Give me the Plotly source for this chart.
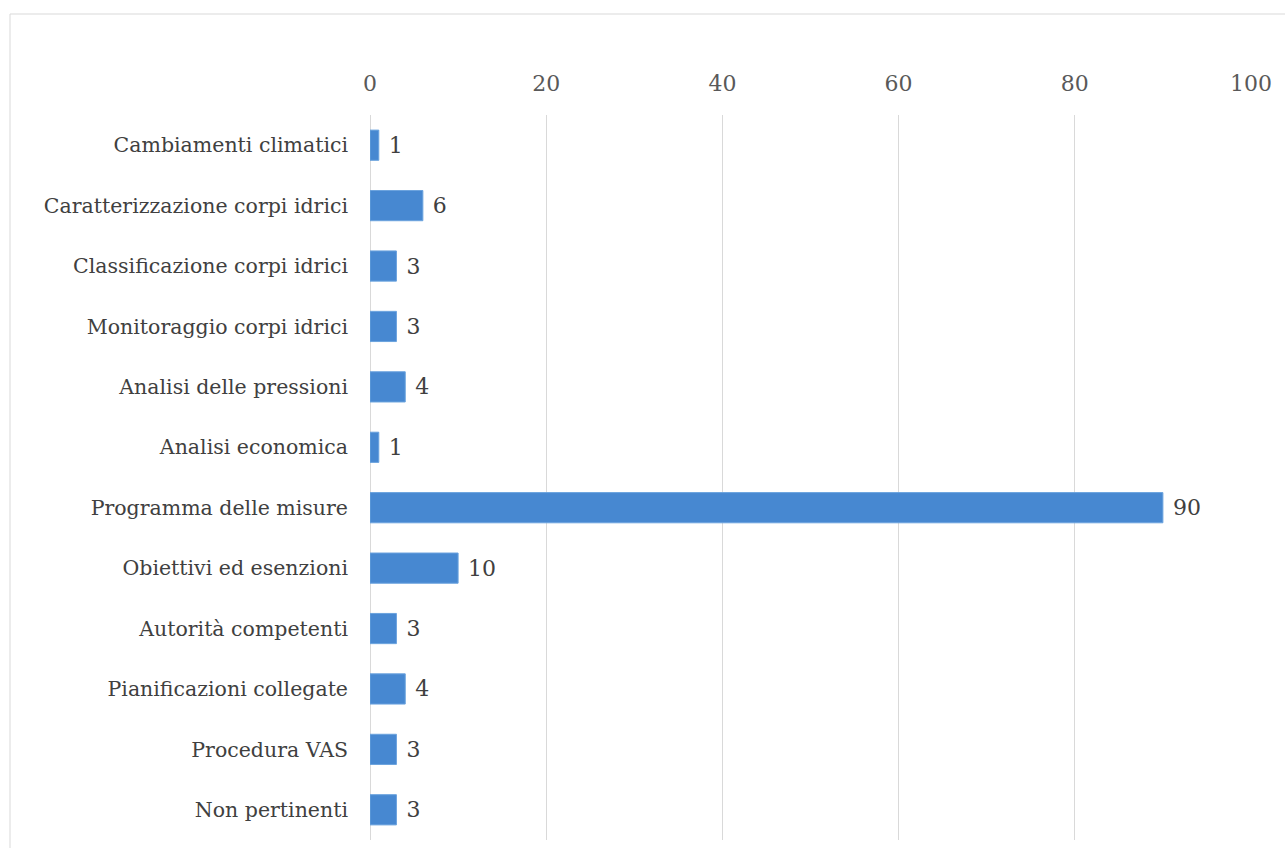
import plotly.graph_objects as go

categories = ["Cambiamenti climatici", "Caratterizzazione corpi idrici", "Classificazione corpi idrici",
              "Monitoraggio corpi idrici", "Analisi delle pressioni", "Analisi economica",
              "Programma delle misure", "Obiettivi ed esenzioni", "Autorità competenti",
              "Pianificazioni collegate", "Procedura VAS", "Non pertinenti"]
values = [1, 6, 3, 3, 4, 1, 90, 10, 3, 4, 3, 3]
x_ticks = [0, 20, 40, 60, 80, 100]

W, H = 1285, 848
L, R, T, B = 370, 34, 115, 8
pw, ph = W - L - R, H - T - B

fig = go.Figure(go.Bar(
    y=categories, x=values, orientation="h", width=0.5,
    marker=dict(color="#4788D1", line=dict(color="#6BA3DE", width=1)),
    text=[" " + str(v) for v in values], textposition="outside",
    textfont=dict(family="DejaVu Serif", size=22, color="#404040"),
    cliponaxis=False,
))

fig.update_layout(
    width=W, height=H, margin=dict(l=L, r=R, t=T, b=B),
    paper_bgcolor="white", plot_bgcolor="white", showlegend=False,
    font=dict(family="DejaVu Serif", color="#404040"),
    xaxis=dict(range=[0, 100], side="top", tickvals=x_ticks, showgrid=True,
               gridcolor="#D9D9D9", gridwidth=1, zeroline=True, zerolinecolor="#D9D9D9",
               zerolinewidth=1, showline=False,
               tickfont=dict(size=22, color="#595959"), ticks="", ticklabelstandoff=19),
    yaxis=dict(categoryorder="array", categoryarray=categories, autorange="reversed",
               range=[11.5, -0.5], showgrid=False, zeroline=False, showline=False,
               tickfont=dict(size=20.5, color="#404040"), ticks="", ticklabelstandoff=21),
    shapes=[dict(type="rect", xref="paper", yref="paper",
                 x0=(10 - L) / pw, x1=(W + 5 - L) / pw,
                 y0=-0.05, y1=1 + (T - 14) / ph,
                 line=dict(color="#D9D9D9", width=1), layer="below"),
            dict(type="line", xref="x", yref="paper", x0=0, x1=0, y0=0, y1=1,
                 line=dict(color="#D9D9D9", width=1), layer="below")],
)

fig.write_html("out.html")
